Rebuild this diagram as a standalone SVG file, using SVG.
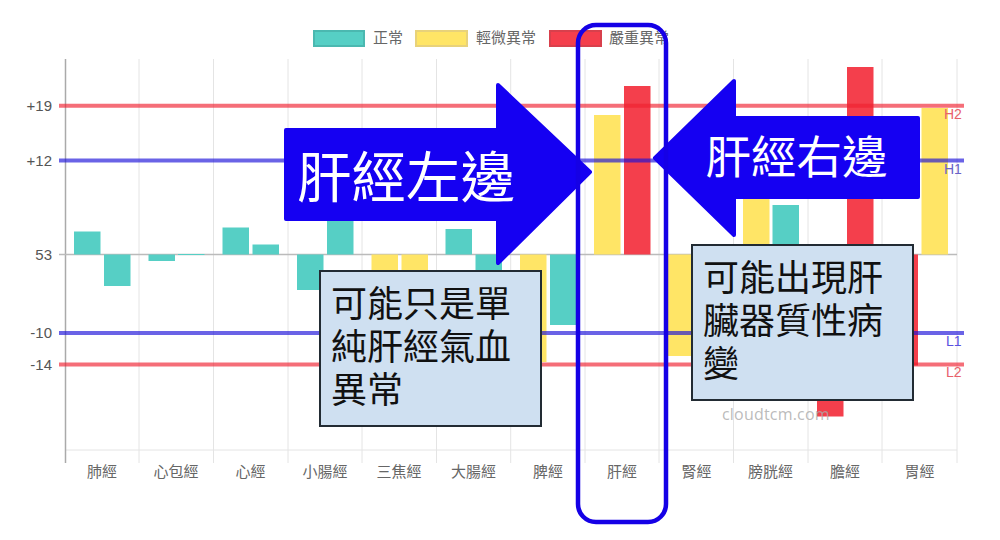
<svg xmlns="http://www.w3.org/2000/svg" width="1000" height="540" viewBox="0 0 1000 540">
<style>
.t{fill:#56cfc5}.y{fill:#ffe566}.r{fill:#f43f4c}
.grid{stroke:#e4e4e4;stroke-width:1;fill:none}
.cjk{font-family:"Noto Sans CJK TC","Noto Sans CJK SC",sans-serif}
.lg{font-size:15px;fill:#666}
.ax{font-size:15px;fill:#666;text-anchor:middle}
.yl{font-family:"Liberation Sans",Arial,sans-serif;font-size:15px;fill:#555;text-anchor:end}
.lim{font-family:"Liberation Sans",Arial,sans-serif;font-size:14px}
.big{fill:#111;font-size:36px}
.arrow{fill:#1500f2;stroke:#1500f2;stroke-width:4;stroke-linejoin:round}
.note{fill:#cfe0f1;stroke:#222b33;stroke-width:2}
.hl{stroke-width:4;opacity:.65;fill:none}
</style>
<rect width="1000" height="540" fill="#fff"/>
<g id="legend" class="cjk lg">
<rect x="314" y="31" width="50" height="15" class="t" stroke="#4bb8b0" stroke-width="2"/><text x="373" y="43">正常</text>
<rect x="416" y="31" width="51" height="15" class="y" stroke="#e8d27a" stroke-width="2"/><text x="476" y="43">輕微異常</text>
<rect x="550" y="31" width="51" height="15" class="r" stroke="#d8404c" stroke-width="2"/><text x="609" y="43">嚴重異常</text>
</g>
<g id="grid">
<path class="grid" d="M139 59V463M213.500 59V463M288 59V463M362 59V463M436.500 59V463M510.700 59V463M585 59V463M659 59V463M733.500 59V463M808 59V463M882 59V463M957 59V463M66 450H957"/>
<path d="M65.500 59V463" stroke="#aaa" stroke-width="1.500" fill="none"/>
<path d="M59 254.500H957" stroke="#bbb" stroke-width="1.500" fill="none"/>
</g>
<g id="bars">
<rect class="t" x="74" y="231.500" width="26.500" height="23"/>
<rect class="t" x="104" y="254.500" width="26.500" height="31.500"/>
<rect class="t" x="148.500" y="254.500" width="26.500" height="6.500"/>
<rect class="t" x="178" y="254" width="26.500" height="1"/>
<rect class="t" x="222.500" y="227.500" width="26.500" height="27"/>
<rect class="t" x="252.500" y="244.500" width="26.500" height="10"/>
<rect class="t" x="297" y="254.500" width="26.500" height="35.500"/>
<rect class="t" x="327" y="215" width="26.500" height="39.500"/>
<rect class="y" x="371.500" y="254.500" width="26.500" height="25"/>
<rect class="y" x="401.500" y="254.500" width="26.500" height="25"/>
<rect class="t" x="445.500" y="229" width="26.500" height="25.500"/>
<rect class="t" x="475.500" y="254.500" width="26.500" height="25"/>
<rect class="y" x="520" y="254.500" width="26.500" height="107.500"/>
<rect class="t" x="550" y="254.500" width="26.500" height="70.500"/>
<rect class="y" x="594" y="115" width="26.500" height="139.500"/>
<rect class="r" x="624" y="86" width="26.500" height="168.500"/>
<rect class="y" x="668" y="254.500" width="26.500" height="101.500"/>
<rect class="y" x="743" y="199" width="26.500" height="55.500"/>
<rect class="t" x="772.500" y="205" width="26.500" height="49.500"/>
<rect class="r" x="817" y="254.500" width="26.500" height="162"/>
<rect class="r" x="847" y="67" width="26.500" height="187.500"/>
<rect class="r" x="891.500" y="254.500" width="26.500" height="111"/>
<rect class="y" x="921.500" y="108" width="26.500" height="146.500"/>
</g>
<g id="limits">
<path class="hl" stroke="#f02030" d="M59 105.700H964"/>
<path class="hl" stroke="#1a10d8" d="M59 160.500H964"/>
<path class="hl" stroke="#1a10d8" d="M59 333H964"/>
<path class="hl" stroke="#f02030" d="M59 364.500H964"/>
</g>
<g id="axis-labels">
<text class="yl" x="52" y="110.500">+19</text>
<text class="yl" x="52" y="165.500">+12</text>
<text class="yl" x="52" y="259.500">53</text>
<text class="yl" x="52" y="338">-10</text>
<text class="yl" x="52" y="369.500">-14</text>
<g class="cjk ax">
<text x="102" y="477">肺經</text>
<text x="176" y="477">心包經</text>
<text x="250.500" y="477">心經</text>
<text x="325" y="477">小腸經</text>
<text x="399" y="477">三焦經</text>
<text x="473.500" y="477">大腸經</text>
<text x="548" y="477">脾經</text>
<text x="622" y="477">肝經</text>
<text x="696.500" y="477">腎經</text>
<text x="770.500" y="477">膀胱經</text>
<text x="845" y="477">膽經</text>
<text x="919.500" y="477">胃經</text>
</g>
<text class="lim" x="944" y="119" fill="#e8606a">H2</text>
<text class="lim" x="944" y="173.500" fill="#6a62c8">H1</text>
<text class="lim" x="946" y="346" fill="#5a50e0">L1</text>
<text class="lim" x="946" y="376.500" fill="#e8606a">L2</text>
</g>
<g id="arrow-left-side">
<path class="arrow" d="M286 130H498V85L590 172L498 263V219H286Z"/>
<text class="cjk" x="297" y="197" font-size="54.500" fill="#fff">肝經左邊</text>
</g>
<g id="arrow-right-side">
<path class="arrow" d="M734 81V118H918V197H734V235L655 158Z"/>
<text class="cjk" x="705.500" y="174" font-size="45.500" fill="#fff">肝經右邊</text>
</g>
<g id="note-left">
<rect class="note" x="320" y="271" width="221" height="155"/>
<text class="cjk big"><tspan x="331" y="317">可能只是單</tspan><tspan x="331" y="360">純肝經氣血</tspan><tspan x="331" y="403">異常</tspan></text>
</g>
<g id="note-right">
<rect class="note" x="692" y="245" width="221" height="155"/>
<text class="cjk big"><tspan x="703" y="291">可能出現肝</tspan><tspan x="703" y="334">臟器質性病</tspan><tspan x="703" y="377">變</tspan></text>
</g>
<text x="722" y="420" font-family="'Open Sans',sans-serif" font-size="16" letter-spacing=".2" fill="#aaa" fill-opacity=".8">cloudtcm.com</text>
<g id="highlight">
<rect x="578" y="25" width="88" height="497" rx="18" fill="none" stroke="#1500e6" stroke-width="4.500"/>
</g>
</svg>
